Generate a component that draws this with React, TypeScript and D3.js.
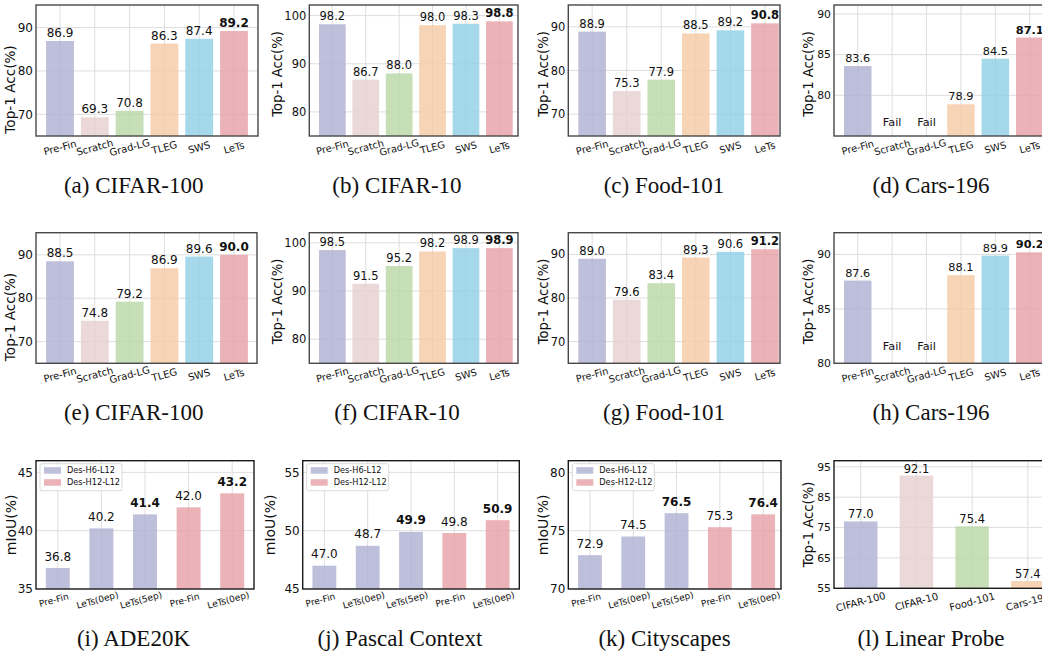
import React from "react";
import * as d3 from "d3";

// ---------------- data ----------------
const methods = ["Pre-Fin", "Scratch", "Grad-LG", "TLEG", "SWS", "LeTs"];
const cifar100A = [86.9, 69.3, 70.8, 86.3, 87.4, 89.2];
const cifar10B = [98.2, 86.7, 88.0, 98.0, 98.3, 98.8];
const food101C = [88.9, 75.3, 77.9, 88.5, 89.2, 90.8];
const cars196D: (number | null)[] = [83.6, null, null, 78.9, 84.5, 87.1];
const cifar100E = [88.5, 74.8, 79.2, 86.9, 89.6, 90.0];
const cifar10F = [98.5, 91.5, 95.2, 98.2, 98.9, 98.9];
const food101G = [89.0, 79.6, 83.4, 89.3, 90.6, 91.2];
const cars196H: (number | null)[] = [87.6, null, null, 88.1, 89.9, 90.2];

const segCats = ["Pre-Fin", "LeTs(0ep)", "LeTs(5ep)", "Pre-Fin", "LeTs(0ep)"];
const segGroups = ["Des-H6-L12", "Des-H6-L12", "Des-H6-L12", "Des-H12-L12", "Des-H12-L12"];
const legendGroups = ["Des-H6-L12", "Des-H12-L12"];
const ade20k = [36.8, 40.2, 41.4, 42.0, 43.2];
const pascalContext = [47.0, 48.7, 49.9, 49.8, 50.9];
const cityscapes = [72.9, 74.5, 76.5, 75.3, 76.4];

const probeCats = ["CIFAR-100", "CIFAR-10", "Food-101", "Cars-196"];
const probeVals = [77.0, 92.1, 75.4, 57.4];

const ticksA = [70, 80, 90];
const ticksB = [80, 90, 100];
const ticksD = [80, 85, 90];
const ticksI = [35, 40, 45];
const ticksJ = [45, 50, 55];
const ticksK = [70, 75, 80];
const ticksL = [55, 65, 75, 85, 95];

// ---------------- styles ----------------
const methodColors = ["#b0b1d3", "#e6cfcf", "#b9d8a6", "#f5caa6", "#92d0e6", "#e7a2a7"];
const groupColor: Record<string, string> = { "Des-H6-L12": "#b0b1d3", "Des-H12-L12": "#e7a2a7" };
const probeColors = ["#b0b1d3", "#e6cfcf", "#b9d8a6", "#f5caa6"];
const SANS = "DejaVu Sans, sans-serif";
const SERIF = "Liberation Serif, Times New Roman, serif";

type Spec = {
  id: string;
  l: number; r: number; rFull: number; t: number; b: number;
  xlim: [number, number];
  barW: number;
  cats: string[];
  vals: (number | null)[];
  colors: string[];
  ylim: [number, number];
  yticks: number[];
  bold: number[];
  ylabel: string;
  ylabelX: number;
  ylabelDy: number;
  caption: string;
  capX: number;
  capY: number;
  fs: { ytick: number; val: number; xtick: number; ylabel: number };
  valGap: number;
  xtickDy: number;
  xtickDx: number;
  frame: string;
  legend?: boolean;
  fail?: boolean;
};

function Panel({ s }: { s: Spec }) {
  const x = d3.scaleLinear().domain(s.xlim).range([s.l, s.rFull]);
  const y = d3.scaleLinear().domain(s.ylim).range([s.b, s.t]);
  const unit = x(1) - x(0);
  const bw = unit * s.barW;
  const clip = `clip-${s.id}`;
  return (
    <g>
      <defs>
        <clipPath id={clip}>
          <rect x={s.l} y={s.t} width={s.r - s.l} height={s.b - s.t} />
        </clipPath>
      </defs>
      <rect x={s.l} y={s.t} width={s.r - s.l} height={s.b - s.t} fill="#ffffff" />
      <g clipPath={`url(#${clip})`}>
        {s.yticks.map((v) => (
          <line key={"gy" + v} x1={s.l} x2={s.r} y1={y(v)} y2={y(v)} stroke="#dedede" strokeWidth={1} />
        ))}
        {s.cats.map((c, i) => (
          <line key={"gx" + i} x1={x(i)} x2={x(i)} y1={s.t} y2={s.b} stroke="#dedede" strokeWidth={1} />
        ))}
        {s.vals.map((v, i) =>
          v == null ? null : (
            <rect
              key={"bar" + i}
              x={x(i) - bw / 2}
              y={y(v)}
              width={bw}
              height={s.b - y(v)}
              fill={s.colors[i]}
              fillOpacity={0.82}
            />
          )
        )}
      </g>
      {s.vals.map((v, i) =>
        v == null ? (
          s.fail ? (
            <text key={"f" + i} x={x(i)} y={y(s.ylim[0] + 1.2)} textAnchor="middle" fontFamily={SANS} fontSize={s.fs.val} fill="#111">
              Fail
            </text>
          ) : null
        ) : (
          <text
            key={"v" + i}
            x={x(i)}
            y={y(v) - s.valGap}
            textAnchor="middle"
            fontFamily={SANS}
            fontSize={s.fs.val}
            fontWeight={s.bold.includes(i) ? "bold" : "normal"}
            fill="#111"
          >
            {v.toFixed(1)}
          </text>
        )
      )}
      <rect x={s.l} y={s.t} width={s.r - s.l} height={s.b - s.t} fill="none" stroke={s.frame} strokeWidth={1.4} />
      {s.yticks.map((v) => (
        <text key={"yt" + v} x={s.l - 3} y={y(v)} dy="0.35em" textAnchor="end" fontFamily={SANS} fontSize={s.fs.ytick} fill="#111">
          {v}
        </text>
      ))}
      {s.cats.map((c, i) => {
        const cx = x(i) + s.xtickDx;
        const cy = s.b + s.xtickDy;
        return (
          <text
            key={"xt" + i}
            transform={`translate(${cx},${cy}) rotate(-15)`}
            textAnchor="middle"
            dy="0.35em"
            fontFamily={SANS}
            fontSize={s.fs.xtick}
            fill="#111"
          >
            {c}
          </text>
        );
      })}
      <text
        transform={`translate(${s.ylabelX},${(s.t + s.b) / 2 + s.ylabelDy}) rotate(-90)`}
        textAnchor="middle"
        fontFamily={SANS}
        fontSize={s.fs.ylabel}
        fill="#111"
      >
        {s.ylabel}
      </text>
      {s.legend && (
        <g>
          <rect x={s.l + 4} y={s.t + 3} width={82} height={27} rx={2} fill="#ffffff" fillOpacity={0.85} stroke="#d0d0d0" strokeWidth={0.8} />
          {legendGroups.map((g, k) => (
            <g key={g}>
              <rect x={s.l + 8} y={s.t + 6.5 + k * 12} width={17} height={6.5} fill={groupColor[g]} fillOpacity={0.82} />
              <text x={s.l + 31} y={s.t + 9.8 + k * 12} dy="0.35em" fontFamily={SANS} fontSize={8.2} fill="#111">
                {g}
              </text>
            </g>
          ))}
        </g>
      )}
      <text x={s.capX} y={s.capY} textAnchor="middle" fontFamily={SERIF} fontSize={23} fill="#111">
        {s.caption}
      </text>
    </g>
  );
}

const row1 = { t: 5, b: 136, capY: 192.7 };
const row2 = { t: 232.7, b: 363.3, capY: 420 };
const row3 = { t: 460.7, b: 589, capY: 646 };
const fsA = { ytick: 12, val: 12, xtick: 10, ylabel: 13.6 };
const fsB = { ytick: 11.5, val: 11.5, xtick: 9.8, ylabel: 13.2 };
const fsD = { ytick: 10.8, val: 11.3, xtick: 9.8, ylabel: 13.2 };
const fsSeg = { ytick: 12, val: 12, xtick: 9, ylabel: 14 };
const xl6: [number, number] = [-0.69, 5.69];
const xl5: [number, number] = [-0.5, 4.5];
const boldLast = [5];
const boldSeg = [2, 4];
const topLabel = "Top-1 Acc(%)";
const frameGray = "#484848";
const frameDark = "#1a1a1a";

function methodPanel(
  id: string, row: typeof row1, col: { l: number; r: number; rFull: number; ylabelX: number; ylabelDy: number; capX: number; fs: typeof fsA },
  vals: (number | null)[], ylim: [number, number], yticks: number[], caption: string, fail = false
): Spec {
  return {
    id, l: col.l, r: col.r, rFull: col.rFull, t: row.t, b: row.b, xlim: xl6, barW: 0.8,
    cats: methods, vals, colors: methodColors, ylim, yticks, bold: boldLast, ylabel: topLabel,
    ylabelX: col.ylabelX, ylabelDy: col.ylabelDy, caption, capX: col.capX, capY: row.capY, fs: col.fs,
    valGap: 4, xtickDy: 11.5, xtickDx: 0, frame: frameGray, fail,
  };
}

const colA = { l: 36, r: 258, rFull: 258, ylabelX: 15, ylabelDy: 19, capX: 133.7, fs: fsA };
const colB = { l: 309.3, r: 518, rFull: 522.4, ylabelX: 282, ylabelDy: 3.5, capX: 397, fs: fsB };
const colC = { l: 568.3, r: 780, rFull: 788.8, ylabelX: 547.5, ylabelDy: 3.5, capX: 664, fs: fsB };
const colD = { l: 834, r: 1060, rFull: 1053.5, ylabelX: 813, ylabelDy: 3.5, capX: 931, fs: fsD };

function segPanel(id: string, l: number, r: number, rFull: number, ylabelX: number, vals: number[], ylim: [number, number], yticks: number[], caption: string, capX: number): Spec {
  return {
    id, l, r, rFull, t: row3.t, b: row3.b, xlim: xl5, barW: 0.55, cats: segCats, vals,
    colors: segGroups.map((g) => groupColor[g]), ylim, yticks, bold: boldSeg, ylabel: "mIoU(%)",
    ylabelX, ylabelDy: 0, caption, capX, capY: row3.capY, fs: fsSeg, valGap: 7.5, xtickDy: 11, xtickDx: -4,
    frame: frameDark, legend: true,
  };
}

const specs: Spec[] = [
  methodPanel("a", row1, colA, cifar100A, [65, 95.2], ticksA, "(a) CIFAR-100"),
  methodPanel("b", row1, colB, cifar10B, [75, 102.2], ticksB, "(b) CIFAR-10"),
  methodPanel("c", row1, colC, food101C, [65, 95], ticksA, "(c) Food-101"),
  methodPanel("d", row1, colD, cars196D, [75, 91.1], ticksD, "(d) Cars-196", true),
  methodPanel("e", row2, { ...colA, r: 257 }, cifar100E, [65, 95.1], ticksA, "(e) CIFAR-100"),
  methodPanel("f", row2, colB, cifar10F, [75, 102.1], ticksB, "(f) CIFAR-10"),
  methodPanel("g", row2, colC, food101G, [65, 95], ticksA, "(g) Food-101"),
  methodPanel("h", row2, colD, cars196H, [80, 92], ticksD, "(h) Cars-196", true),
  segPanel("i", 36, 254, 254, 16, ade20k, [35, 46], ticksI, "(i) ADE20K", 133.5),
  segPanel("j", 302.7, 519.3, 519.3, 274.5, pascalContext, [45, 56], ticksJ, "(j) Pascal Context", 400),
  segPanel("k", 568.3, 781, 784.8, 547.5, cityscapes, [70, 81], ticksK, "(k) Cityscapes", 664.5),
  {
    id: "l", l: 834, r: 1060, rFull: 1054.6, t: row3.t, b: 588.3, xlim: [-0.48, 3.48], barW: 0.6,
    cats: probeCats, vals: probeVals, colors: probeColors, ylim: [55, 97], yticks: ticksL, bold: [],
    ylabel: topLabel, ylabelX: 813, ylabelDy: 0, caption: "(l) Linear Probe", capX: 931, capY: row3.capY,
    fs: { ytick: 10.8, val: 11.5, xtick: 10, ylabel: 13.2 }, valGap: 3, xtickDy: 13.4, xtickDx: 0,
    frame: frameDark,
  },
];

export default function App() {
  return (
    <svg
      width={1042}
      height={654}
      viewBox="0 0 1042 654"
      style={{ position: "absolute", left: 0, top: 0, background: "#ffffff" }}
    >
      <rect x={0} y={0} width={1042} height={654} fill="#ffffff" />
      {specs.map((s) => (
        <Panel key={s.id} s={s} />
      ))}
    </svg>
  );
}
